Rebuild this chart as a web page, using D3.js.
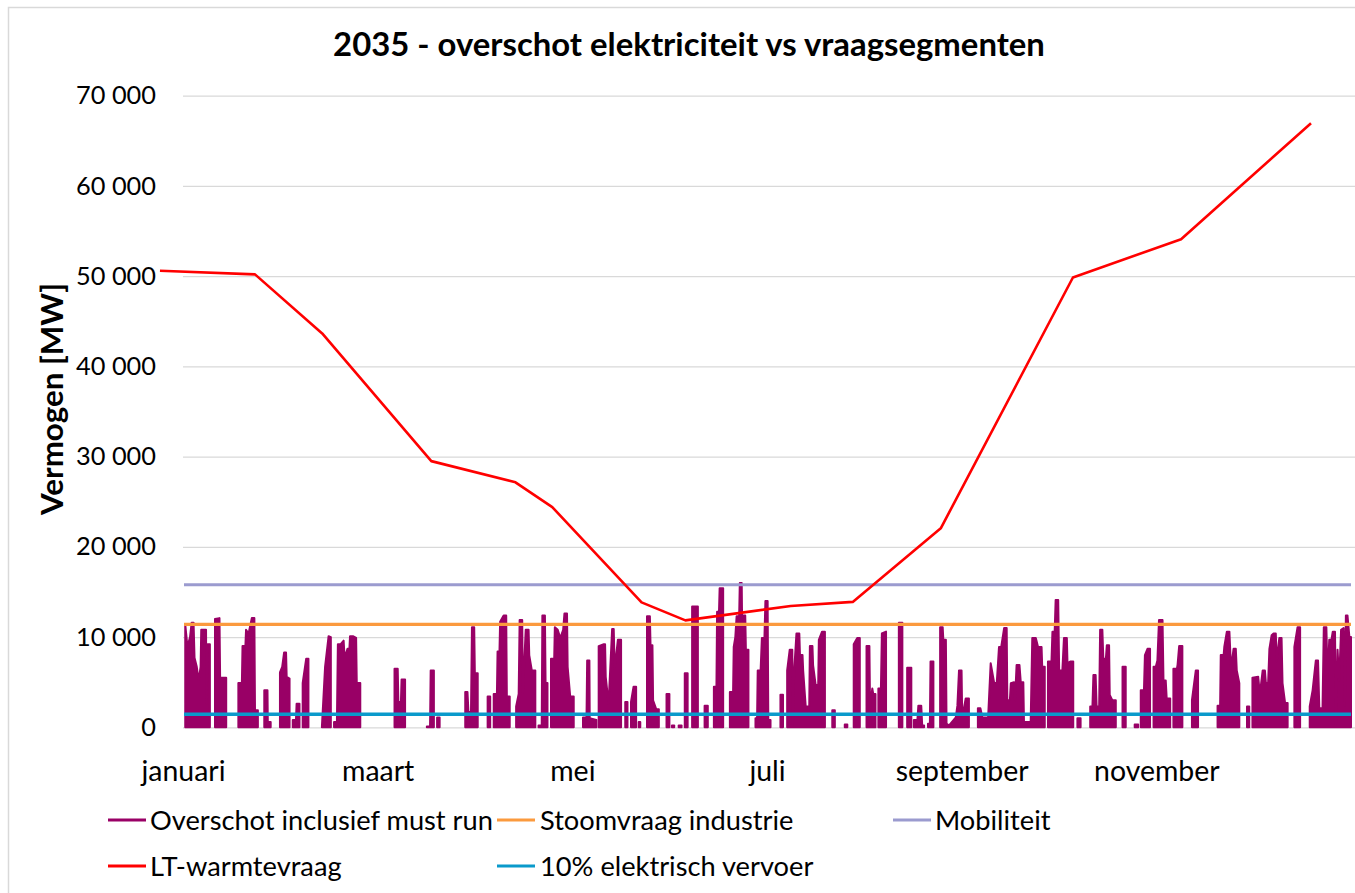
<!DOCTYPE html>
<html><head><meta charset="utf-8">
<script src="https://cdn.jsdelivr.net/npm/d3@7"></script>
<style>
body{margin:0;background:#fff}
svg{display:block}
text{font-family:Lato,"Open Sans",sans-serif;fill:#000}
</style>
</head><body>
<svg id="chart" width="1355" height="893"></svg>
<script>
// ---------- data ----------
const chartTitle = "2035 - overschot elektriciteit vs vraagsegmenten";
const yAxisTitle = "Vermogen [MW]";
const monthLabels = ["januari","maart","mei","juli","september","november"];
const monthTickDays = [0, 60.83, 121.67, 182.5, 243.33, 304.17];
const yTickValues = [0,10000,20000,30000,40000,50000,60000,70000];

const stoomvraagIndustrie = 11400;
const mobiliteit = 15800;
const elektrischVervoer = 1450;

const ltDays   = [-7.2, 22.5, 43.5, 77.6, 103.9, 115.4, 143.3, 157.0, 189.9, 209.3, 236.8, 278.1, 311.9, 352.5];
const ltValues = [50600, 50200, 43650, 29500, 27150, 24400, 13850, 11850, 13450, 13900, 22050, 49850, 54100, 66950];

// Overschot inclusief must run: episodes of surplus, [day of year, MW]
const overschot = [
 [[0.7,11400],[1.4,8900],[2.2,10000],[2.7,11600],[3.3,11600],[3.6,7700],[4.3,6700],[4.9,5200],[5.5,6700],[5.7,10800],[7.2,10800],[7.3,2600],[7.7,9200],[8.4,9200]],
 [[10.0,12000],[11.4,12100],[11.6,5500],[13.5,5500]],
 [[17.3,4900],[18.4,4900],[18.6,9000],[19.5,9000],[19.7,10800],[20.5,10400],[21.5,12100],[22.3,12100],[22.5,1900],[23.4,1900]],
 [[25.4,4100],[26.4,4100],[26.5,600],[27.4,600]],
 [[30.3,6100],[31.0,6700],[31.6,8300],[32.2,8300],[32.4,5600],[33.3,5400]],
 [[34.3,800],[35.3,800],[35.5,2600],[36.4,2600]],
 [[37.4,4900],[38.5,7600],[39.2,7600]],
 [[43.4,0],[44.4,6700],[45.5,10100],[46.2,10000]],
 [[47.2,600],[48.1,600],[48.4,9200],[49.2,9200],[50.2,9600],[50.5,7700],[51.4,8700],[52.0,8700],[52.2,10100],[53.1,10100],[54.1,9900],[54.3,4900],[55.4,4900]],
 [[66.1,6500],[67.1,6500],[67.3,2800],[68.1,2800],[68.3,5300],[69.4,5300]],
 [[76.2,100],[77.2,100],[77.4,6300],[78.4,6300]],
 [[79.4,1100],[80.2,1100]],
 [[88.2,3900],[88.9,3900],[89.2,1700],[90.0,1700],[90.3,11100],[91.0,11100],[91.2,6000],[92.1,6000]],
 [[95.2,3400],[96.0,3400]],
 [[97.1,3700],[98.1,3700],[98.3,8400],[98.9,8400],[99.1,11700],[100.2,12400],[101.0,12400],[101.2,3400],[102.1,3400]],
 [[104.1,2300],[104.9,3700],[105.2,11900],[106.0,11900],[106.2,3700],[107.1,10800],[108.0,10800],[108.2,8000],[109.0,6300],[110.1,6300]],
 [[111.1,200],[112.1,200],[112.3,12400],[113.1,12400],[113.3,4900],[113.9,4900]],
 [[115.0,7600],[116.0,7600],[116.2,11100],[117.1,10800],[117.9,9900],[118.8,10800],[119.2,12600],[120.0,12600],[120.2,6700],[121.0,3400],[122.1,3400]],
 [[125.0,1100],[126.1,1100],[126.3,7400],[127.0,7400],[127.1,1000],[129.2,800]],
 [[129.9,9000],[131.5,9200],[131.9,9200],[132.1,5600],[133.0,2600],[134.1,10900],[134.6,10900],[134.9,6500],[135.9,9700],[136.9,9700]],
 [[138.2,2800],[138.9,2800]],
 [[140.0,2800],[140.8,4500],[141.6,4500]],
 [[142.4,600],[142.9,600]],
 [[145.0,12300],[145.9,12300],[146.1,9100],[146.7,9100],[146.9,3000],[147.9,2000],[148.7,2000]],
 [[151.1,3700],[152.0,3700]],
 [[152.8,200],[153.5,200]],
 [[154.9,200],[155.8,200]],
 [[156.8,6000],[157.7,6000]],
 [[159.1,13400],[160.9,13400]],
 [[163.0,2400],[164.0,2400]],
 [[165.9,4500],[166.7,4500],[166.9,12800],[167.5,12800],[167.7,15400],[168.8,15400]],
 [[170.9,3900],[171.9,3900],[172.1,8900],[172.6,10000],[173.0,12300],[173.8,12300],[174.0,16000],[174.6,16000],[174.7,12400],[175.7,12400],[175.9,8600],[176.7,8600]],
 [[178.9,1000],[179.4,1000],[179.6,6300],[180.5,6300],[180.9,9900],[181.7,9900],[182.0,14000],[182.7,14000],[182.9,800],[183.6,800]],
 [[186.7,3600],[187.5,3600]],
 [[188.8,6300],[189.6,8600],[190.4,8600],[190.6,300],[191.0,6300],[191.7,10400],[192.6,10400],[192.8,8000],[193.6,8000],[193.8,6300],[194.6,2300],[195.7,2300],[195.9,9000],[196.7,9000],[196.9,6900],[197.7,4700],[198.5,4700],[198.7,9700],[199.7,10600],[200.6,10600]],
 [[202.9,1900],[203.7,1900]],
 [[206.8,300],[207.6,300]],
 [[209.6,9200],[210.7,9900],[211.5,9900]],
 [[213.6,9000],[214.5,9000],[214.7,2300],[215.4,4300],[215.7,3700],[216.4,3700]],
 [[217.3,4300],[218.1,4300],[218.4,10400],[219.7,10600]],
 [[223.7,11600],[224.8,11600]],
 [[226.3,6600],[227.6,6600]],
 [[228.4,800],[229.5,800],[229.8,2400],[230.7,2400],[231.0,200],[231.6,200]],
 [[232.8,400],[233.4,400],[233.6,7300],[234.5,7300]],
 [[236.6,11100],[237.4,11100],[237.6,9700],[238.4,9700],[238.6,400],[239.4,200],[241.5,1100],[242.0,2400],[242.5,6300],[243.3,6300],[243.5,1100],[244.6,3200],[245.6,3200]],
 [[248.4,2100],[249.2,2100],[249.8,1100],[251.6,1100],[252.4,7100],[253.5,4900],[254.3,4900],[255.0,8900],[255.7,8900],[256.6,11000],[257.4,11000],[257.6,3000],[258.4,3000],[258.7,4900],[259.7,5000],[260.0,3000],[260.5,6900],[261.4,6900],[261.8,5000],[262.6,5000],[262.8,600],[264.9,600],[265.4,9900],[266.5,9900],[267.2,8900],[268.3,8900],[268.5,6700],[269.3,6700]],
 [[270.3,7300],[271.4,7300],[271.7,10600],[272.4,10600],[272.7,14100],[273.5,14100],[273.8,6300],[274.8,6300],[275.3,9900],[276.2,9900],[276.4,7100],[277.4,7300],[278.2,7300]],
 [[279.5,1000],[280.5,1000]],
 [[283.5,2300],[284.2,2300],[284.5,5800],[285.2,5800],[285.5,2300],[286.3,2300],[286.6,10800],[287.3,10800],[287.6,7600],[288.4,7600],[288.7,9100],[289.4,9100],[289.6,3600],[290.4,3000],[291.5,3000]],
 [[293.6,6700],[294.6,6700]],
 [[297.4,300],[298.5,300]],
 [[299.3,4100],[300.3,4100],[300.6,8000],[301.4,8700],[302.2,8700]],
 [[303.3,6700],[304.0,6700],[304.5,7400],[305.0,11900],[306.1,11900],[306.4,5200],[307.1,5200],[307.4,3200],[308.5,3200]],
 [[309.5,6500],[310.6,6500],[310.8,6900],[311.3,9000],[312.3,9000]],
 [[315.3,3000],[316.5,6300],[317.2,6300]],
 [[323.3,2400],[324.1,2400],[324.3,8000],[325.2,8000],[325.4,8900],[326.2,10600],[327.0,10600],[327.5,6500],[328.3,8700],[329.0,8700],[329.3,6300],[330.1,4900]],
 [[332.5,2300],[333.2,2300]],
 [[334.2,5500],[336.0,5600],[336.3,4500],[336.8,4500],[337.4,6300],[338.1,6300],[338.4,4900],[339.1,4900],[339.5,8700],[340.2,10200],[340.8,10400],[341.5,10400],[341.8,7300],[342.6,9900],[343.3,9900],[343.6,4900],[344.4,2700],[345.2,2700]],
 [[347.3,8900],[348.3,11100],[349.1,11100]],
 [[352.1,2300],[353.0,4100],[354.0,7400],[354.7,7400],[355.1,2100],[356.1,2100],[356.5,11100],[357.3,11100],[357.7,5200],[358.2,9700],[358.9,9700],[359.3,10600],[360.0,10600],[360.3,200],[360.8,8600],[361.3,5200],[361.9,10800],[362.7,11000],[363.1,2400],[363.4,12400],[363.9,12400],[364.5,10000],[365.0,10000]]
];

const legendItems = [
  {name:"Overschot inclusief must run", color:"#990066"},
  {name:"Stoomvraag industrie", color:"#fb9a3e"},
  {name:"Mobiliteit", color:"#9b9bcf"},
  {name:"LT-warmtevraag", color:"#ff0000"},
  {name:"10% elektrisch vervoer", color:"#0a9acb"}
];

// ---------- layout ----------
const svg = d3.select("#chart");
const L = 183, R = 1351, T = 95.7, B = 727.3;
const x = d3.scaleLinear().domain([0,365]).range([L,R]);
const y = d3.scaleLinear().domain([0,70000]).range([B,T]);

function fitSize(textSel, target, base){
  const w = textSel.node().getComputedTextLength();
  return base * target / w;
}

// chart border
svg.append("rect").attr("x",8.5).attr("y",7.5).attr("width",1370).attr("height",920)
  .attr("fill","#fff").attr("stroke","#d9d9d9").attr("stroke-width",1.5);

// gridlines
svg.append("g").attr("transform",`translate(${L},0)`)
  .call(d3.axisLeft(y).tickValues(yTickValues).tickSize(-(R-L+4)).tickFormat(""))
  .call(g=>g.select(".domain").remove())
  .call(g=>g.selectAll("line").attr("stroke","#d9d9d9").attr("stroke-width",1.3));

// y axis labels
const fmt = v => d3.format(",")(v).replace(/,/g," ");
const yAx = svg.append("g").attr("transform",`translate(${L},0)`)
  .call(d3.axisLeft(y).tickValues(yTickValues).tickSize(0).tickPadding(27).tickFormat(fmt));
yAx.select(".domain").remove();
yAx.selectAll("text").attr("font-family","Lato").attr("font-size",25).attr("fill","#000");
{
  const t = yAx.selectAll("text").filter(d=>d===70000);
  const s = fitSize(t, 80, 25);
  yAx.selectAll("text").attr("font-size",s);
}

// x axis labels
const xAx = svg.append("g").attr("transform",`translate(0,${B})`)
  .call(d3.axisBottom(x).tickValues(monthTickDays).tickSize(0).tickPadding(33)
        .tickFormat((d,i)=>monthLabels[i]));
xAx.select(".domain").remove();
xAx.selectAll("text").attr("font-family","Lato").attr("font-size",25).attr("fill","#000");
{
  const t = xAx.selectAll("text").filter((d,i)=>i===4);
  const s = fitSize(t, 133, 25);
  xAx.selectAll("text").attr("font-size",s);
}

// overschot areas
const area = d3.area().x(d=>x(d[0])).y0(y(0)).y1(d=>y(d[1]));
svg.append("g").selectAll("path").data(overschot).join("path")
  .attr("d",area).attr("fill","#990066").attr("stroke","#990066")
  .attr("stroke-width",2).attr("stroke-linejoin","round");

// constant demand lines
const hline = (val,color,w)=>svg.append("line")
  .attr("x1",x(0)+1).attr("x2",x(365)).attr("y1",y(val)).attr("y2",y(val))
  .attr("stroke",color).attr("stroke-width",w);
hline(stoomvraagIndustrie, legendItems[1].color, 3.2);
hline(mobiliteit, legendItems[2].color, 3);

// LT-warmtevraag
const lt = ltDays.map((d,i)=>[d,ltValues[i]]);
svg.append("path").datum(lt)
  .attr("d",d3.line().x(d=>x(d[0])).y(d=>y(d[1])))
  .attr("fill","none").attr("stroke",legendItems[3].color).attr("stroke-width",2.6)
  .attr("stroke-linejoin","round");

hline(elektrischVervoer, legendItems[4].color, 3.4);

// title
const tt = svg.append("text").attr("x",689).attr("y",56).attr("text-anchor","middle")
  .attr("font-family","Lato").attr("font-weight","bold").attr("font-size",30).text(chartTitle);
tt.attr("font-size", fitSize(tt, 712, 30));

// y axis title
const yt = svg.append("text").attr("transform","translate(63,399) rotate(-90)")
  .attr("text-anchor","middle").attr("font-family","Lato").attr("font-weight","bold")
  .attr("font-size",24).text(yAxisTitle);
yt.attr("font-size", fitSize(yt, 232, 24));

// legend
const legPos = [
  {sx:108, tx:150, y:820},
  {sx:497, tx:540, y:820},
  {sx:893, tx:935, y:820},
  {sx:108, tx:150, y:866},
  {sx:497, tx:540, y:866}
];
const lg = svg.append("g");
const items = lg.selectAll("g").data(legendItems).join("g");
items.append("line")
  .attr("x1",(d,i)=>legPos[i].sx).attr("x2",(d,i)=>legPos[i].sx+38)
  .attr("y1",(d,i)=>legPos[i].y).attr("y2",(d,i)=>legPos[i].y)
  .attr("stroke",d=>d.color).attr("stroke-width",3.2);
const ltxt = items.append("text")
  .attr("x",(d,i)=>legPos[i].tx).attr("y",(d,i)=>legPos[i].y)
  .attr("dy","0.35em").attr("font-family","Lato").attr("font-size",25).text(d=>d.name);
{
  const s = fitSize(ltxt.filter((d,i)=>i===0), 343, 25);
  ltxt.attr("font-size", s);
}
</script>
</body></html>
